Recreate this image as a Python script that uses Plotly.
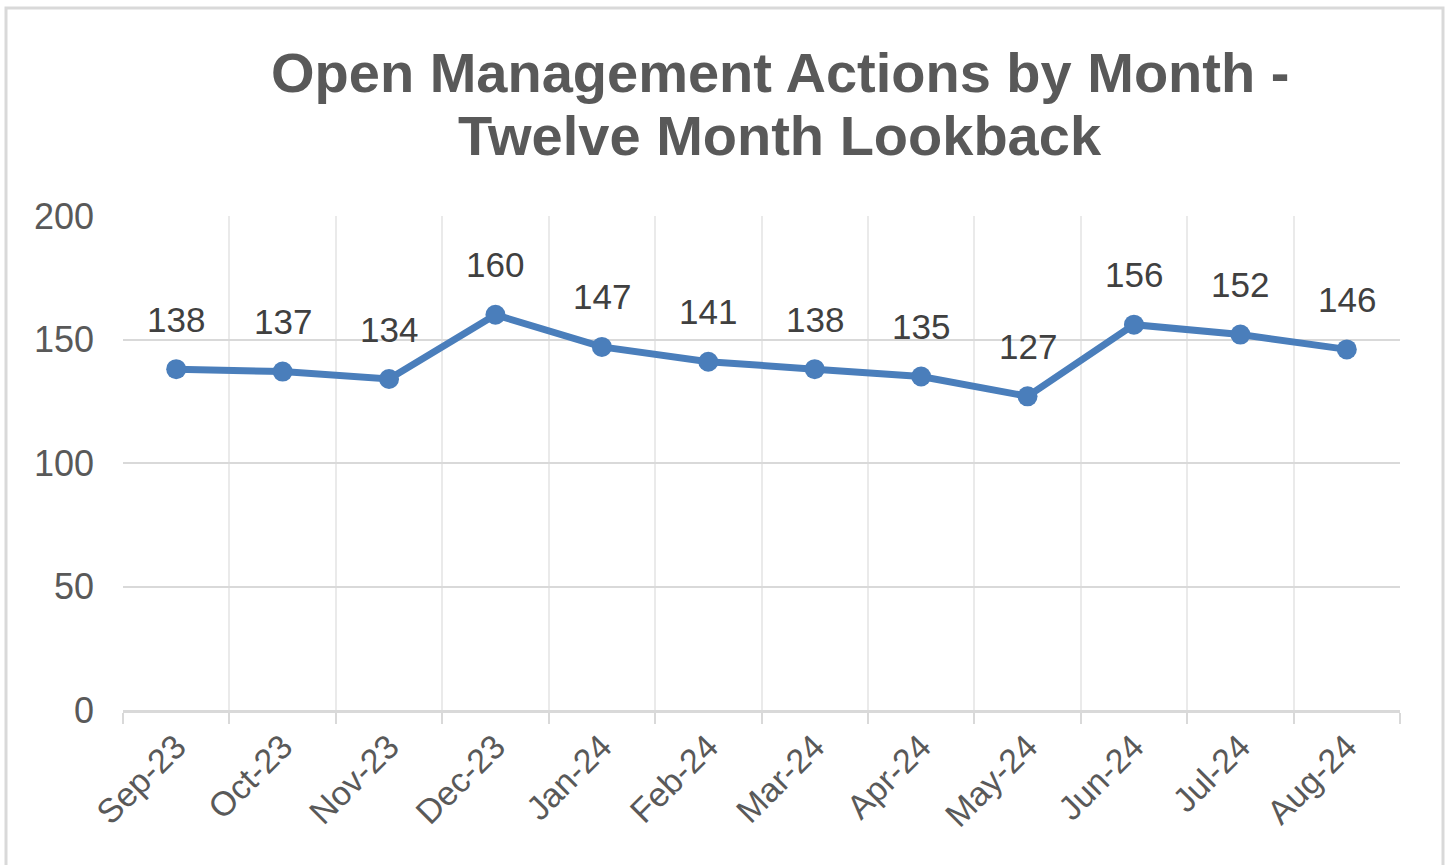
import plotly.graph_objects as go

months = ["Sep-23", "Oct-23", "Nov-23", "Dec-23", "Jan-24", "Feb-24",
          "Mar-24", "Apr-24", "May-24", "Jun-24", "Jul-24", "Aug-24"]
open_actions = [138, 137, 134, 160, 147, 141, 138, 135, 127, 156, 152, 146]
y_ticks = [0, 50, 100, 150, 200]
title_lines = ["Open Management Actions by Month -", "Twelve Month Lookback"]

W, H = 1450, 865
ml, mr, mt, mb = 123, 50, 216, 155
pw, ph = W - ml - mr, H - mt - mb

fig = go.Figure()
fig.add_trace(go.Scatter(
    x=months, y=open_actions, mode="lines+markers",
    line=dict(color="#4A7EBB", width=7),
    marker=dict(color="#4A7EBB", size=20),
    hoverinfo="skip", showlegend=False,
))

for m, v in zip(months, open_actions):
    fig.add_annotation(x=m, y=v, text=str(v), showarrow=False, yshift=50,
                       font=dict(family="Liberation Sans", size=35, color="#404040"))

title_cx = 780
for line, cy in zip(title_lines, [72, 135]):
    fig.add_annotation(
        x=(title_cx - ml) / pw, xref="paper", y=1, yref="paper",
        yshift=mt - cy, yanchor="middle", showarrow=False,
        text="<b>" + line + "</b>",
        font=dict(family="Liberation Sans", size=56, color="#595959"),
    )

fig.add_shape(type="rect", xref="paper", yref="paper",
              x0=-(ml - 6) / pw, x1=1 + (mr - 7) / pw,
              y0=-(mb + 10) / ph, y1=1 + (mt - 8) / ph,
              line=dict(color="#D9D9D9", width=3), layer="below")

fig.update_layout(
    width=W, height=H,
    margin=dict(l=ml, r=mr, t=mt, b=mb),
    paper_bgcolor="white", plot_bgcolor="white",
    font=dict(family="Liberation Sans", color="#595959"),
)
fig.update_xaxes(
    type="category", range=[-0.5, len(months) - 0.5],
    tickson="boundaries", ticks="outside", ticklen=11, tickwidth=2,
    tickcolor="#D9D9D9", showgrid=True, gridcolor="#EAEAEA", gridwidth=2,
    showline=True, linecolor="#D9D9D9", linewidth=3,
    tickangle=-45, tickfont=dict(size=34, color="#595959"),
    zeroline=False, mirror=False,
)
fig.update_yaxes(
    range=[0, 200], tickvals=y_ticks, showgrid=True, gridcolor="#D9D9D9",
    gridwidth=2, zeroline=False, showline=False, ticks="",
    tickfont=dict(size=36, color="#595959"), ticklabelstandoff=28,
)

fig.write_html("out.html", config={"displayModeBar": False},
               post_script="document.body.style.margin='0';")
